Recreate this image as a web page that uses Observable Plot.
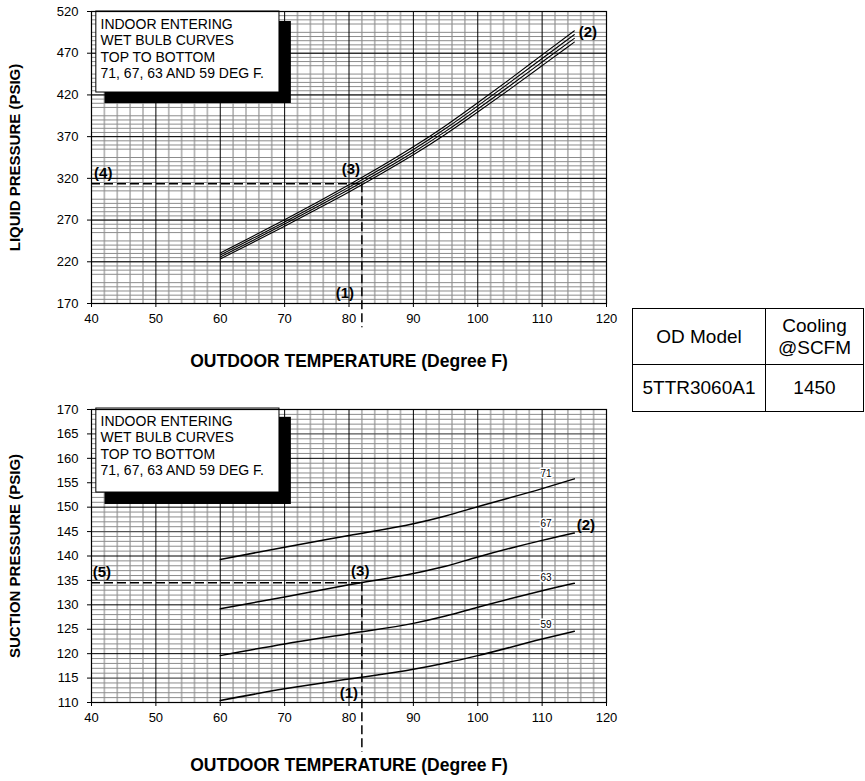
<!DOCTYPE html>
<html>
<head>
<meta charset="utf-8">
<script src="https://cdn.jsdelivr.net/npm/d3@7"></script>
<script src="https://cdn.jsdelivr.net/npm/@observablehq/plot@0.6"></script>
<style>
  html, body { margin: 0; padding: 0; background: #fff; }
  #page { position: relative; width: 865px; height: 781px; overflow: hidden; background: #fff; font-family: Arial, "Liberation Sans", sans-serif; }
  #top, #bottom { position: absolute; left: 0; }
  #top { top: 0; }
  #bottom { top: 398px; }
  #tbl { position: absolute; left: 632px; top: 308px; border-collapse: collapse; font-family: Arial, "Liberation Sans", sans-serif; font-size: 19px; color: #000; }
  #tbl td { border: 1.5px solid #000; text-align: center; padding: 0; line-height: 22px; }
</style>
</head>
<body>
<div id="page">
  <div id="top"></div>
  <div id="bottom"></div>
  <table id="tbl">
    <tr style="height:56px"><td style="width:132px">OD Model</td><td style="width:97px">Cooling<br>@SCFM</td></tr>
    <tr style="height:47px"><td>5TTR3060A1</td><td>1450</td></tr>
  </table>
</div>
<script>
// ---------- data ----------
const xTicks = [40, 50, 60, 70, 80, 90, 100, 110, 120];
const liquidTicks = [170, 220, 270, 320, 370, 420, 470, 520];
const suctionTicks = [110, 115, 120, 125, 130, 135, 140, 145, 150, 155, 160, 165, 170];
const wetBulbs = [71, 67, 63, 59];
const legendLines = ["INDOOR ENTERING", "WET BULB CURVES", "TOP TO BOTTOM", "71, 67, 63 AND 59 DEG F."];

// Liquid pressure (PSIG) vs outdoor temperature (deg F)
const liquidTemp = [60, 65, 70, 75, 80, 85, 90, 95, 100, 105, 110, 115];
const liquid71 = [230.6, 250.3, 270.4, 291.1, 312.4, 334.5, 357.8, 383.1, 410.6, 439.0, 468.0, 496.8];
const liquid67 = [228.2, 247.8, 267.8, 288.4, 309.5, 331.5, 354.6, 379.7, 406.9, 435.0, 463.7, 492.3];
const liquid63 = [225.8, 245.3, 265.2, 285.7, 306.6, 328.5, 351.4, 376.3, 403.2, 431.0, 459.4, 487.8];
const liquid59 = [223.4, 242.8, 262.6, 283.0, 303.7, 325.5, 348.2, 372.9, 399.5, 427.0, 455.1, 483.3];

// Suction pressure (PSIG) vs outdoor temperature (deg F)
const suctionTemp = [60, 70, 80, 90, 95, 100, 110, 115];
const suction71 = [139.3, 141.8, 144.2, 146.6, 148.2, 150.1, 153.8, 155.8];
const suction67 = [129.2, 131.6, 134.1, 136.4, 137.9, 139.8, 143.2, 144.7];
const suction63 = [119.6, 122.0, 124.1, 126.2, 127.7, 129.5, 132.9, 134.4];
const suction59 = [110.4, 112.8, 114.8, 116.8, 118.1, 119.6, 123.0, 124.6];

// worked example
const exampleTemp = 82;
const exampleLiquid = 313.5;
const exampleSuction = 134.5;

// ---------- build ----------
const FONT = 'Arial, "Liberation Sans", sans-serif';
function rows(temps, series) {
  const out = [];
  series.forEach(([wb, vals]) => temps.forEach((t, i) => out.push({t, p: vals[i], wb})));
  return out;
}
const liquidRows = rows(liquidTemp, [[71, liquid71], [67, liquid67], [63, liquid63], [59, liquid59]]);
const suctionRows = rows(suctionTemp, [[71, suction71], [67, suction67], [63, suction63], [59, suction59]]);

const minorX = d3.range(40, 121, 2).filter(v => v % 10 !== 0);
const bold = {fontWeight: "bold", fontSize: 15, fill: "black"};

// ---- top chart: liquid pressure ----
const topMinorY = d3.range(170, 521, 5).filter(v => v % 50 !== 0);
const topChart = Plot.plot({
  width: 640, height: 380,
  marginLeft: 91, marginRight: 34, marginTop: 11, marginBottom: 77,
  x: {domain: [40, 120], ticks: xTicks, tickSize: 4, tickPadding: 6, label: null, tickFormat: d => d},
  y: {domain: [170, 520], ticks: liquidTicks, tickSize: 4, tickPadding: 9, label: null, tickFormat: d => d},
  style: {fontFamily: FONT, fontSize: "13px", color: "black", background: "transparent", overflow: "visible"},
  marks: [
    Plot.ruleX(minorX, {stroke: "#b8b8b8", strokeWidth: 1.8}),
    Plot.ruleY(topMinorY, {stroke: "#8c8c8c", strokeWidth: 1}),
    Plot.ruleY(liquidTicks, {stroke: "black", strokeWidth: 1}),
    Plot.ruleX(xTicks, {stroke: "black", strokeWidth: 1}),
    // legend box
    Plot.rect([0], {x1: 42.1, x2: 71.05, y1: 409.7, y2: 508, fill: "black"}),
    Plot.rect([0], {x1: 40.75, x2: 69.2, y1: 422.9, y2: 520, fill: "white", stroke: "black", strokeWidth: 1}),
    Plot.text([legendLines.join("\n")], {frameAnchor: "top-left", dx: 9, dy: 6, lineAnchor: "top", lineHeight: 1.165, textAnchor: "start", fontSize: 14, fill: "black"}),
    // curves
    Plot.line(liquidRows, {x: "t", y: "p", z: "wb", stroke: "black", strokeWidth: 1.1, curve: "natural"}),
    // dashed reference lines
    Plot.ruleY([exampleLiquid], {x1: 40, x2: exampleTemp, stroke: "black", strokeWidth: 1.5, strokeDasharray: "9,4"}),
    Plot.ruleX([exampleTemp], {y1: exampleLiquid, y2: 141, stroke: "black", strokeWidth: 1.5, strokeDasharray: "9,4"}),
    // annotation labels
    Plot.text(["(4)"], {x: 40.4, y: 326, textAnchor: "start", ...bold}),
    Plot.text(["(3)"], {x: 80.3, y: 330.6, ...bold}),
    Plot.text(["(1)"], {x: 79.35, y: 182.8, ...bold}),
    Plot.text(["(2)"], {x: 117.1, y: 495.2, ...bold}),
    Plot.frame({stroke: "black", strokeWidth: 1.2}),
    // axis titles
    Plot.text(["OUTDOOR TEMPERATURE (Degree F)"], {frameAnchor: "bottom", dy: 63, fontSize: 17.5, fontWeight: "bold", fill: "black"}),
    Plot.text(["LIQUID PRESSURE (PSIG)"], {frameAnchor: "left", textAnchor: "middle", dx: -76, rotate: -90, fontSize: 15, fontWeight: "bold", fill: "black"})
  ]
});
document.getElementById("top").append(topChart);

// ---- bottom chart: suction pressure ----
const botFineY = d3.range(110, 171, 1).filter(v => v % 5 !== 0);
const botMidY = suctionTicks.filter(v => v % 10 !== 0);
const botMajorY = suctionTicks.filter(v => v % 10 === 0);
const wbLabelY = [156.9, 146.5, 135.6, 126.0];
const bottomChart = Plot.plot({
  width: 640, height: 383,
  marginLeft: 91, marginRight: 34, marginTop: 11, marginBottom: 79,
  x: {domain: [40, 120], ticks: xTicks, tickSize: 4, tickPadding: 6, label: null, tickFormat: d => d},
  y: {domain: [110, 170], ticks: suctionTicks, tickSize: 4, tickPadding: 9, label: null, tickFormat: d => d},
  style: {fontFamily: FONT, fontSize: "13px", color: "black", background: "transparent", overflow: "visible"},
  marks: [
    Plot.ruleX(minorX, {stroke: "#b8b8b8", strokeWidth: 1.8}),
    Plot.ruleY(botFineY, {stroke: "#8c8c8c", strokeWidth: 1}),
    Plot.ruleY(botMidY, {stroke: "#555", strokeWidth: 1.2}),
    Plot.ruleY(botMajorY, {stroke: "black", strokeWidth: 1}),
    Plot.ruleX(xTicks, {stroke: "black", strokeWidth: 1}),
    // legend box
    Plot.rect([0], {x1: 42.1, x2: 71.05, y1: 150.55, y2: 168.4, fill: "black"}),
    Plot.rect([0], {x1: 40.75, x2: 69.2, y1: 153.0, y2: 170.2, fill: "white", stroke: "black", strokeWidth: 1}),
    Plot.text([legendLines.join("\n")], {frameAnchor: "top-left", dx: 9, dy: 5, lineAnchor: "top", lineHeight: 1.165, textAnchor: "start", fontSize: 14, fill: "black"}),
    // curves
    Plot.line(suctionRows, {x: "t", y: "p", z: "wb", stroke: "black", strokeWidth: 1.5, curve: "monotone-x"}),
    // wet bulb labels
    Plot.text(wetBulbs, {x: 110.6, y: (d, i) => wbLabelY[i], text: d => String(d), fontSize: 10, fill: "black", stroke: "white", strokeWidth: 3, paintOrder: "stroke"}),
    // dashed reference lines
    Plot.ruleY([exampleSuction], {x1: 40, x2: exampleTemp, stroke: "black", strokeWidth: 1.5, strokeDasharray: "9,4"}),
    Plot.ruleX([exampleTemp], {y1: exampleSuction, y2: 99.8, stroke: "black", strokeWidth: 1.5, strokeDasharray: "9,4"}),
    // annotation labels
    Plot.text(["(5)"], {x: 40.2, y: 136.6, textAnchor: "start", ...bold}),
    Plot.text(["(3)"], {x: 81.75, y: 136.9, ...bold}),
    Plot.text(["(1)"], {x: 79.97, y: 111.9, ...bold}),
    Plot.text(["(2)"], {x: 116.8, y: 146.3, ...bold}),
    Plot.frame({stroke: "black", strokeWidth: 1.2}),
    // axis titles
    Plot.text(["OUTDOOR TEMPERATURE (Degree F)"], {frameAnchor: "bottom", dy: 68, fontSize: 17.5, fontWeight: "bold", fill: "black"}),
    Plot.text(["SUCTION PRESSURE (PSIG)"], {frameAnchor: "left", textAnchor: "middle", dx: -76, rotate: -90, fontSize: 15, fontWeight: "bold", fill: "black"})
  ]
});
document.getElementById("bottom").append(bottomChart);
</script>
</body>
</html>
